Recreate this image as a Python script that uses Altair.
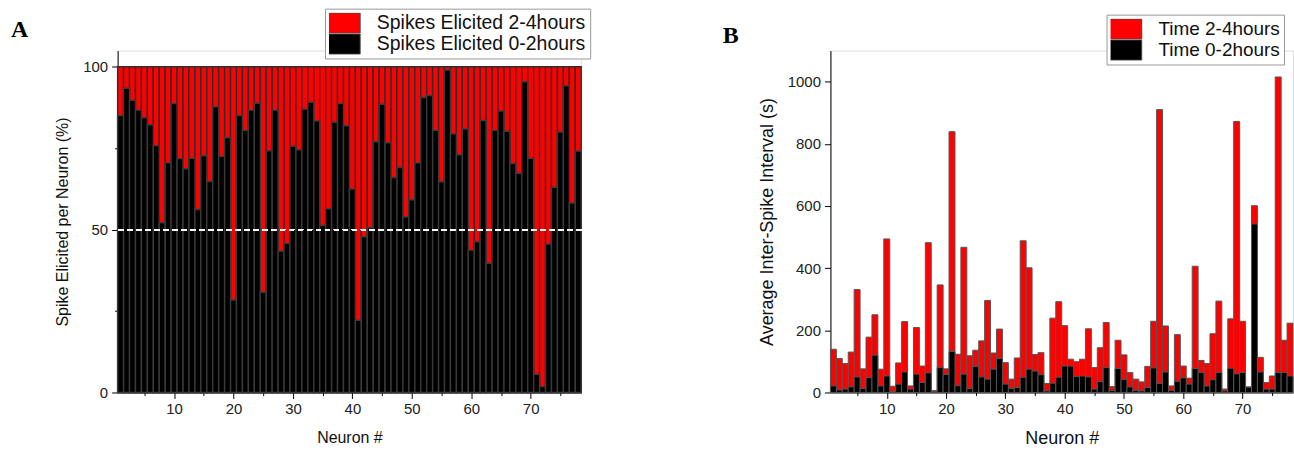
import altair as alt
import pandas as pd

neurons = list(range(1, 79))

# Panel A: % of spikes elicited in 0-2 h (remainder up to 100 % is 2-4 h)
a_early_pct = [
    85.0, 93.4, 89.7, 86.7, 84.4, 82.2, 75.8, 52.1, 70.5, 88.7,
    71.8, 68.7, 71.9, 56.2, 72.7, 64.8, 87.7, 72.5, 78.2, 28.4,
    85.0, 80.5, 86.7, 88.8, 30.8, 74.2, 86.7, 43.4, 45.8, 75.6,
    74.5, 87.0, 89.1, 83.4, 51.3, 56.4, 83.0, 88.7, 81.9, 62.5,
    22.2, 47.8, 50.6, 77.0, 88.5, 76.7, 66.0, 69.1, 53.9, 59.2,
    70.5, 90.6, 91.2, 80.5, 64.7, 99.0, 79.4, 73.0, 80.9, 43.7,
    46.3, 83.5, 39.7, 80.5, 86.4, 80.2, 70.3, 67.3, 95.4, 71.9,
    5.6, 1.8, 45.6, 63.0, 80.0, 94.2, 58.2, 74.1,
]

# Panel B: average inter-spike interval (s)
b_late_isi = [
    139, 109, 93, 130, 331, 76, 178, 250, 75, 494,
    20, 95, 228, 21, 209, 85, 482, 6, 346, 76,
    839, 123, 467, 118, 136, 166, 296, 127, 204, 96,
    43, 111, 488, 401, 122, 128, 29, 239, 292, 215,
    107, 99, 107, 205, 80, 144, 225, 19, 168, 121,
    64, 43, 34, 84, 229, 910, 214, 21, 186, 85,
    46, 406, 103, 93, 189, 294, 11, 237, 872, 229,
    18, 601, 113, 32, 53, 1015, 168, 223,
]
b_early_isi = [
    21, 8, 11, 18, 50, 13, 48, 120, 21, 53,
    3, 27, 66, 11, 59, 32, 63, 2, 80, 58,
    132, 22, 59, 13, 84, 50, 43, 75, 109, 27,
    13, 16, 49, 75, 69, 57, 5, 30, 49, 85,
    85, 51, 53, 50, 11, 35, 80, 7, 77, 42,
    18, 7, 5, 16, 79, 29, 66, 7, 36, 47,
    27, 77, 64, 21, 41, 64, 5, 78, 60, 64,
    17, 542, 66, 11, 11, 64, 64, 53,
]

x_major = [10, 20, 30, 40, 50, 60, 70]
x_minor = [5, 15, 25, 35, 45, 55, 65, 75]

a_labels = ["Spikes Elicited 2-4hours", "Spikes Elicited 0-2hours"]
b_labels = ["Time 2-4hours", "Time 0-2hours"]
colors = ["#ff0000", "#000000"]

SANS = "Liberation Sans"
SERIF = "Liberation Serif"

dfA = pd.DataFrame({"neuron": neurons, "early": a_early_pct})
dfA["lo"] = dfA["neuron"] - 0.5
dfA["hi"] = dfA["neuron"] + 0.5
dfA["total"] = 100.0
dfA["base"] = 0.0

dfB = pd.DataFrame({"neuron": neurons, "late": b_late_isi, "early": b_early_isi})
dfB["lo"] = dfB["neuron"] - 0.5
dfB["hi"] = dfB["neuron"] + 0.5
dfB["base"] = 0.0


def x_axis_major(title_size):
    return alt.Axis(
        title="Neuron #", values=x_major, tickSize=6, orient="bottom",
        labelOverlap=False, format="d",
        grid=False, domainColor="black", tickColor="black", labelColor="#222",
        labelFont=SANS, labelFontSize=15, labelPadding=3,
        titleFont=SANS, titleFontSize=title_size, titleFontWeight="normal",
        titleColor="#111", titlePadding=13,
    )


x_axis_minor = alt.Axis(
    title=None, values=x_minor, tickSize=3, orient="bottom", labels=False,
    grid=False, domain=False, tickColor="black",
)

xscale = alt.Scale(domain=[0.5, 78.5], nice=False, zero=False)

legend_symbol = "M-2,-1H2V1H-2Z"


def legend(x, y, size):
    return alt.Legend(
        title=None, orient="none", legendX=x, legendY=y,
        symbolType=legend_symbol, symbolSize=410, symbolStrokeColor="#444",
        symbolStrokeWidth=1, symbolOpacity=1, clipHeight=21,
        labelFont=SANS, labelFontSize=size, labelColor="#111", labelOffset=26,
        labelLimit=0, rowPadding=0, strokeColor="#999", padding=4, fillColor="white",
    )


# ---------- Panel A ----------
a_color = alt.Color("series:N", scale=alt.Scale(domain=a_labels, range=colors),
                    legend=legend(208, -42, 19.5))
a_yaxis = alt.Axis(
    title="Spike Elicited per Neuron (%)", values=[0, 25, 50, 75, 100],
    labelExpr="datum.value % 50 === 0 ? datum.label : ''",
    tickSize={"condition": {"test": "datum.value % 50 === 0", "value": 6}, "value": 3},
    grid=False, domainColor="black", tickColor="black", labelColor="#222",
    labelFont=SANS, labelFontSize=15, labelPadding=4,
    titleFont=SANS, titleFontSize=16, titleFontWeight="normal", titleColor="#111",
    titlePadding=12,
)
a_yscale = alt.Scale(domain=[0, 105], nice=False)

a_red = alt.Chart(dfA).transform_calculate(series=f"'{a_labels[0]}'").mark_rect(
    stroke="#2e2e2e", strokeWidth=1.4
).encode(
    x=alt.X("lo:Q", scale=xscale, axis=x_axis_major(16)),
    x2="hi:Q",
    y=alt.Y("total:Q", scale=a_yscale, axis=a_yaxis),
    y2="base:Q",
    color=a_color,
)
a_black = alt.Chart(dfA).transform_calculate(series=f"'{a_labels[1]}'").mark_rect(
    stroke="#3a3a3a", strokeWidth=1.4
).encode(
    x=alt.X("lo:Q", scale=xscale, axis=x_axis_minor),
    x2="hi:Q",
    y=alt.Y("early:Q", scale=a_yscale),
    y2="base:Q",
    color=a_color,
)
a_rule = alt.Chart(dfA).mark_rule(color="white", strokeDash=[5, 4], strokeWidth=1.2).encode(
    y=alt.datum(50)
)

chartA = alt.layer(a_red, a_black, a_rule).resolve_axis(x="independent").properties(
    width=465, height=343,
    title=alt.TitleParams("A", anchor="start", frame="group", font=SERIF, fontSize=24,
                          fontWeight="bold", color="black", dx=-107, dy=38),
)

# ---------- Panel B ----------
b_color = alt.Color("series:N", scale=alt.Scale(domain=b_labels, range=colors),
                    legend=legend(277, -36, 19))
b_yaxis = alt.Axis(
    title="Average Inter-Spike Interval (s)", values=list(range(0, 1101, 100)),
    labelExpr="datum.value % 200 === 0 ? datum.label : ''",
    tickSize={"condition": {"test": "datum.value % 200 === 0", "value": 6}, "value": 3},
    format="d",
    grid=False, domainColor="black", tickColor="black", labelColor="#222",
    labelFont=SANS, labelFontSize=15, labelPadding=4,
    titleFont=SANS, titleFontSize=18, titleFontWeight="normal", titleColor="#111",
    titlePadding=11,
)
b_yscale = alt.Scale(domain=[0, 1100], nice=False)

b_red = alt.Chart(dfB).transform_calculate(series=f"'{b_labels[0]}'").mark_rect(
    stroke="#555", strokeWidth=1
).encode(
    x=alt.X("lo:Q", scale=xscale, axis=x_axis_major(18)),
    x2="hi:Q",
    y=alt.Y("late:Q", scale=b_yscale, axis=b_yaxis),
    y2="base:Q",
    color=b_color,
)
b_black = alt.Chart(dfB).transform_calculate(series=f"'{b_labels[1]}'").mark_rect(
    stroke="#555", strokeWidth=1
).encode(
    x=alt.X("lo:Q", scale=xscale, axis=x_axis_minor),
    x2="hi:Q",
    y=alt.Y("early:Q", scale=b_yscale),
    y2="base:Q",
    color=b_color,
)

chartB = alt.layer(b_red, b_black).resolve_axis(x="independent").properties(
    width=464, height=343,
    title=alt.TitleParams("B", anchor="start", frame="group", font=SERIF, fontSize=24,
                          fontWeight="bold", color="black", dx=-108, dy=38),
)

chart = alt.hconcat(chartA, chartB, spacing=131).resolve_scale(color="independent").properties(
    padding={"left": 10, "top": 7, "right": 0, "bottom": 0}
).configure_view(stroke=None).configure(background="white")

chart.save("out.html", embed_options={"renderer": "svg", "actions": False})
